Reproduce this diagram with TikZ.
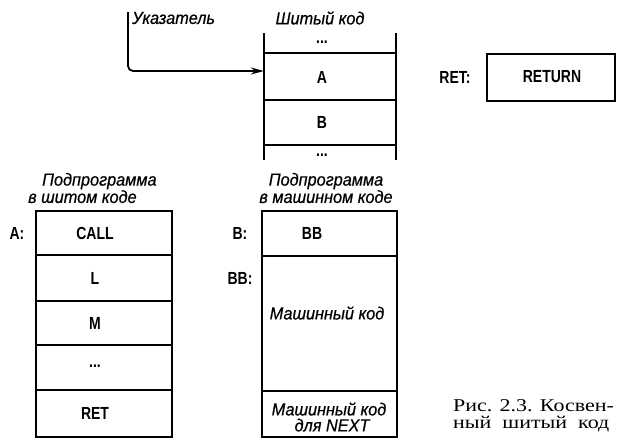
\documentclass[tikz,border=0pt]{standalone}
\usepackage{fontspec}
\setmainfont{Liberation Sans}
\newfontfamily\codefont[FakeStretch=0.8]{Liberation Sans Bold}
\newfontfamily\labfont[FakeStretch=0.93,FakeBold=0.6]{Liberation Sans Italic}
\newfontfamily\capfont[FakeStretch=1.22]{Liberation Serif}
\usetikzlibrary{arrows.meta}
\begin{document}
\begin{tikzpicture}[x=1pt,y=-1pt,
  cell/.style={draw, line width=1.8pt, inner sep=0pt},
  lab/.style={font=\labfont\fontsize{17.5}{16}\selectfont, inner sep=0pt, align=center},
  code/.style={font=\codefont\fontsize{17.5}{18}\selectfont, inner sep=0pt},
  capt/.style={anchor=base west, inner sep=0pt, font=\capfont\fontsize{18}{16}\selectfont},
  wire/.style={line width=1.8pt}]
\useasboundingbox (0,0) rectangle (617,439);

% --- threaded code column (top) ---
\node[lab] (tTitle) at (320,18) {Шитый код};
\coordinate (tl1) at (264,33); \coordinate (tl2) at (264,160);
\coordinate (tr1) at (396,33); \coordinate (tr2) at (396,160);
\draw[wire] (tl1) -- (tl2);
\draw[wire] (tr1) -- (tr2);
\node[inner sep=0pt, minimum width=132pt, minimum height=47pt] (cA) at (330,76.5) {};
\node[inner sep=0pt, minimum width=132pt, minimum height=45pt] (cB) at (330,122.5) {};
\draw[wire] (264,53) -- (396,53);
\draw[wire] (cA.south west) -- (cA.south east);
\draw[wire] (cB.south west) -- (cB.south east);
\node[code] (tdots1) at (322,42) {...};
\node[code] (tA) at (322,77) {A};
\node[code] (tB) at (322,122) {B};
\node[code] (tdots2) at (322,155) {...};

% pointer
\node[lab, anchor=west] (ptrlab) at (132,18) {Указатель};
\coordinate (ptr) at (128,12);
\draw[wire, rounded corners=5pt, -{Stealth[length=13pt,width=7pt]}] (ptr) |- ([yshift=5.5pt]cA.west);

% --- RET box ---
\node[code] (retlab) at (455,77) {RET:};
\node[cell, minimum width=128pt, minimum height=47pt] (retbox) at (551,77.5) {};
\node[code] (rettxt) at (552,77) {RETURN};

% --- left box: subroutine in threaded code ---
\node[lab, align=left, anchor=west] (lTitle) at (28,188) {\hspace*{14pt}Подпрограмма\\в шитом коде};
\node[cell, minimum width=136pt, minimum height=44pt] (l1) at (104,233) {};
\node[cell, minimum width=136pt, minimum height=46pt] (l2) at (104,278) {};
\node[cell, minimum width=136pt, minimum height=44pt] (l3) at (104,323) {};
\node[cell, minimum width=136pt, minimum height=45pt] (l4) at (104,367.5) {};
\node[cell, minimum width=136pt, minimum height=47pt] (l5) at (104,413.5) {};
\node[code] (aLab) at (17,233) {A:};
\node[code] (lt1) at (95,233) {CALL};
\node[code] (lt2) at (95,278) {L};
\node[code] (lt3) at (95,323) {M};
\node[code] (lt4) at (95,366) {...};
\node[code] (lt5) at (95,413) {RET};

% --- middle box: subroutine in machine code ---
\node[lab] (mTitle) at (326,188) {Подпрограмма\\в машинном коде};
\node[cell, minimum width=135pt, minimum height=45pt] (m1) at (329.5,233.5) {};
\node[cell, minimum width=135pt, minimum height=135pt] (m2) at (329.5,323.5) {};
\node[cell, minimum width=135pt, minimum height=46pt] (m3) at (329.5,414) {};
\node[code] (bLab) at (240,233) {B:};
\node[code] (bbLab) at (240,278) {BB:};
\node[code] (mt1) at (312,233) {BB};
\node[lab] (mt2) at (327,313) {Машинный код};
\node[lab] (mt3) at (329,417) {Машинный код\\\hspace*{6pt}для NEXT};

% --- caption ---
\node[capt] (cap1) at (453,411) {Рис. 2.3. Косвен-};
\node[capt] (cap2) at (453,428) {ный\hspace{11pt}шитый\hspace{11pt}код};
\end{tikzpicture}
\end{document}
